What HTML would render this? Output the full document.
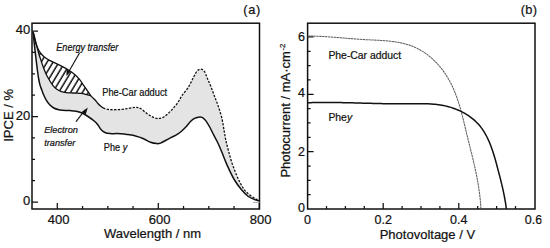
<!DOCTYPE html>
<html><head><meta charset="utf-8"><style>
html,body{margin:0;padding:0;background:#fff;width:550px;height:248px;overflow:hidden}
svg{display:block}
text{font-family:"Liberation Sans",sans-serif;stroke:#111;stroke-width:0.22px;paint-order:stroke}
</style></head><body>
<svg width="550" height="248" viewBox="0 0 550 248">
<defs>
<pattern id="hatch" patternUnits="userSpaceOnUse" width="5.1" height="5.1" patternTransform="rotate(31)">
<rect width="5.1" height="5.1" fill="#fff"/><line x1="1" y1="0" x2="1" y2="5.1" stroke="#111" stroke-width="1.5"/>
</pattern>
</defs>
<rect width="550" height="248" fill="#fff"/>
<path d="M33.20,32.00 C33.47,33.00 34.20,35.67 34.80,38.00 C35.40,40.33 36.12,43.33 36.80,46.00 C37.48,48.67 38.17,51.50 38.90,54.00 C39.63,56.50 40.42,58.67 41.20,61.00 C41.98,63.33 42.75,65.75 43.60,68.00 C44.45,70.25 45.35,72.50 46.30,74.50 C47.25,76.50 48.22,78.20 49.30,80.00 C50.38,81.80 51.60,83.80 52.80,85.30 C54.00,86.80 55.05,87.95 56.50,89.00 C57.95,90.05 59.83,91.00 61.50,91.60 C63.17,92.20 64.67,92.37 66.50,92.60 C68.33,92.83 70.08,92.88 72.50,93.00 C74.92,93.12 78.75,93.07 81.00,93.30 C83.25,93.53 84.35,93.98 86.00,94.40 C87.65,94.82 89.42,94.90 90.90,95.80 C92.38,96.70 93.80,98.60 94.90,99.80 C96.00,101.00 96.62,102.00 97.50,103.00 C98.38,104.00 99.25,104.97 100.20,105.80 C101.15,106.63 101.65,107.37 103.20,108.00 C104.75,108.63 106.87,109.33 109.50,109.60 C112.13,109.87 115.92,109.78 119.00,109.60 C122.08,109.42 125.25,108.88 128.00,108.50 C130.75,108.12 133.42,107.30 135.50,107.30 C137.58,107.30 138.62,107.48 140.50,108.50 C142.38,109.52 144.67,111.95 146.75,113.40 C148.83,114.85 151.12,116.35 153.00,117.20 C154.88,118.05 156.33,118.48 158.00,118.50 C159.67,118.52 161.33,118.12 163.00,117.30 C164.67,116.48 166.33,115.07 168.00,113.60 C169.67,112.13 171.33,110.38 173.00,108.50 C174.67,106.62 176.54,104.38 178.00,102.30 C179.46,100.22 179.97,98.62 181.75,96.00 C183.53,93.38 186.72,89.77 188.70,86.60 C190.67,83.43 192.18,79.62 193.60,77.00 C195.02,74.38 196.00,72.20 197.20,70.90 C198.40,69.60 199.58,69.08 200.80,69.20 C202.02,69.32 203.42,70.10 204.50,71.60 C205.58,73.10 206.23,75.70 207.30,78.20 C208.37,80.70 209.70,83.58 210.90,86.60 C212.10,89.62 213.28,93.07 214.50,96.30 C215.72,99.53 216.98,102.38 218.20,106.00 C219.42,109.62 220.83,114.00 221.80,118.00 C222.77,122.00 223.33,126.33 224.00,130.00 C224.67,133.67 225.03,136.45 225.80,140.00 C226.57,143.55 227.43,147.07 228.60,151.30 C229.77,155.53 231.15,160.70 232.80,165.40 C234.45,170.10 236.62,175.50 238.50,179.50 C240.38,183.50 242.22,186.80 244.10,189.40 C245.98,192.00 247.92,193.53 249.80,195.10 C251.68,196.67 253.82,197.95 255.40,198.80 C256.98,199.65 258.65,199.97 259.30,200.20 L259.50,200.80 C258.82,200.65 257.25,200.62 255.40,199.90 C253.55,199.18 250.75,198.25 248.40,196.50 C246.05,194.75 243.67,192.23 241.30,189.40 C238.93,186.57 236.55,183.50 234.20,179.50 C231.85,175.50 229.32,170.10 227.20,165.40 C225.08,160.70 223.15,155.23 221.50,151.30 C219.85,147.37 218.67,144.65 217.30,141.80 C215.93,138.95 214.57,136.67 213.30,134.20 C212.03,131.73 210.97,129.27 209.70,127.00 C208.43,124.73 206.98,122.20 205.70,120.60 C204.42,119.00 203.22,117.97 202.00,117.40 C200.78,116.83 199.65,117.03 198.40,117.20 C197.15,117.37 195.82,117.68 194.50,118.40 C193.18,119.12 191.79,120.23 190.50,121.50 C189.21,122.77 188.21,124.42 186.75,126.00 C185.29,127.58 183.42,129.55 181.75,131.00 C180.08,132.45 178.42,133.67 176.75,134.70 C175.08,135.73 173.62,136.23 171.75,137.20 C169.88,138.17 167.38,139.52 165.50,140.50 C163.62,141.48 161.96,142.58 160.50,143.10 C159.04,143.62 158.42,143.75 156.75,143.60 C155.08,143.45 152.79,143.05 150.50,142.20 C148.21,141.35 145.50,139.53 143.00,138.50 C140.50,137.47 138.00,136.65 135.50,136.00 C133.00,135.35 129.92,134.93 128.00,134.60 C126.08,134.27 125.83,134.17 124.00,134.00 C122.17,133.83 119.33,133.67 117.00,133.60 C114.67,133.53 112.00,133.78 110.00,133.60 C108.00,133.42 106.50,133.18 105.00,132.50 C103.50,131.82 102.17,130.75 101.00,129.50 C99.83,128.25 99.13,126.42 98.00,125.00 C96.87,123.58 95.87,122.42 94.20,121.00 C92.53,119.58 90.03,117.83 88.00,116.50 C85.97,115.17 84.00,113.88 82.00,113.00 C80.00,112.12 78.00,111.60 76.00,111.20 C74.00,110.80 72.25,110.75 70.00,110.60 C67.75,110.45 64.38,110.43 62.50,110.30 C60.62,110.17 60.21,110.18 58.75,109.80 C57.29,109.42 55.29,108.87 53.75,108.00 C52.21,107.13 50.77,105.97 49.50,104.60 C48.23,103.23 47.07,101.40 46.10,99.80 C45.13,98.20 44.42,96.63 43.70,95.00 C42.98,93.37 42.42,91.67 41.80,90.00 C41.18,88.33 40.52,86.83 40.00,85.00 C39.48,83.17 39.12,81.33 38.70,79.00 C38.28,76.67 37.88,73.83 37.50,71.00 C37.12,68.17 36.78,65.17 36.40,62.00 C36.02,58.83 35.62,55.67 35.20,52.00 C34.78,48.33 34.23,43.33 33.90,40.00 C33.57,36.67 33.32,33.33 33.20,32.00 Z" fill="#e4e4e4" stroke="none"/>
<path d="M33.20,32.00 C33.37,32.83 33.82,35.25 34.20,37.00 C34.58,38.75 35.00,40.83 35.50,42.50 C36.00,44.17 36.53,45.48 37.20,47.00 C37.87,48.52 38.62,50.22 39.50,51.60 C40.38,52.98 41.42,54.20 42.50,55.30 C43.58,56.40 44.75,57.32 46.00,58.20 C47.25,59.08 48.75,59.92 50.00,60.60 C51.25,61.28 52.33,61.75 53.50,62.30 C54.67,62.85 55.75,63.32 57.00,63.90 C58.25,64.48 59.29,64.92 61.00,65.80 C62.71,66.68 65.17,67.92 67.25,69.20 C69.33,70.48 71.46,71.82 73.50,73.50 C75.54,75.18 77.82,77.33 79.50,79.30 C81.18,81.27 82.30,83.42 83.60,85.30 C84.90,87.18 86.08,88.85 87.30,90.60 C88.52,92.35 90.30,94.93 90.90,95.80 L90.90,95.80 C90.08,95.57 87.65,94.82 86.00,94.40 C84.35,93.98 83.25,93.53 81.00,93.30 C78.75,93.07 74.92,93.12 72.50,93.00 C70.08,92.88 68.33,92.83 66.50,92.60 C64.67,92.37 63.17,92.20 61.50,91.60 C59.83,91.00 57.95,90.05 56.50,89.00 C55.05,87.95 54.00,86.80 52.80,85.30 C51.60,83.80 50.38,81.80 49.30,80.00 C48.22,78.20 47.25,76.50 46.30,74.50 C45.35,72.50 44.45,70.25 43.60,68.00 C42.75,65.75 41.98,63.33 41.20,61.00 C40.42,58.67 39.63,56.50 38.90,54.00 C38.17,51.50 37.48,48.67 36.80,46.00 C36.12,43.33 35.40,40.33 34.80,38.00 C34.20,35.67 33.47,33.00 33.20,32.00 Z" fill="url(#hatch)" stroke="none"/>
<path d="M33.20,32.00 C33.37,32.83 33.82,35.25 34.20,37.00 C34.58,38.75 35.00,40.83 35.50,42.50 C36.00,44.17 36.53,45.48 37.20,47.00 C37.87,48.52 38.62,50.22 39.50,51.60 C40.38,52.98 41.42,54.20 42.50,55.30 C43.58,56.40 44.75,57.32 46.00,58.20 C47.25,59.08 48.75,59.92 50.00,60.60 C51.25,61.28 52.33,61.75 53.50,62.30 C54.67,62.85 55.75,63.32 57.00,63.90 C58.25,64.48 59.29,64.92 61.00,65.80 C62.71,66.68 65.17,67.92 67.25,69.20 C69.33,70.48 71.46,71.82 73.50,73.50 C75.54,75.18 77.82,77.33 79.50,79.30 C81.18,81.27 82.30,83.42 83.60,85.30 C84.90,87.18 86.08,88.85 87.30,90.60 C88.52,92.35 89.63,94.27 90.90,95.80 C92.17,97.33 93.80,98.60 94.90,99.80 C96.00,101.00 96.62,102.00 97.50,103.00 C98.38,104.00 99.25,104.97 100.20,105.80 C101.15,106.63 102.70,107.63 103.20,108.00" fill="none" stroke="#111" stroke-width="1.3"/>
<path d="M103.20,108.00 C104.25,108.27 106.87,109.33 109.50,109.60 C112.13,109.87 115.92,109.78 119.00,109.60 C122.08,109.42 125.25,108.88 128.00,108.50 C130.75,108.12 133.42,107.30 135.50,107.30 C137.58,107.30 138.62,107.48 140.50,108.50 C142.38,109.52 144.67,111.95 146.75,113.40 C148.83,114.85 151.12,116.35 153.00,117.20 C154.88,118.05 156.33,118.48 158.00,118.50 C159.67,118.52 161.33,118.12 163.00,117.30 C164.67,116.48 166.33,115.07 168.00,113.60 C169.67,112.13 171.33,110.38 173.00,108.50 C174.67,106.62 176.54,104.38 178.00,102.30 C179.46,100.22 179.97,98.62 181.75,96.00 C183.53,93.38 186.72,89.77 188.70,86.60 C190.67,83.43 192.18,79.62 193.60,77.00 C195.02,74.38 196.00,72.20 197.20,70.90 C198.40,69.60 199.58,69.08 200.80,69.20 C202.02,69.32 203.42,70.10 204.50,71.60 C205.58,73.10 206.23,75.70 207.30,78.20 C208.37,80.70 209.70,83.58 210.90,86.60 C212.10,89.62 213.28,93.07 214.50,96.30 C215.72,99.53 216.98,102.38 218.20,106.00 C219.42,109.62 220.83,114.00 221.80,118.00 C222.77,122.00 223.33,126.33 224.00,130.00 C224.67,133.67 225.03,136.45 225.80,140.00 C226.57,143.55 227.43,147.07 228.60,151.30 C229.77,155.53 231.15,160.70 232.80,165.40 C234.45,170.10 236.62,175.50 238.50,179.50 C240.38,183.50 242.22,186.80 244.10,189.40 C245.98,192.00 247.92,193.53 249.80,195.10 C251.68,196.67 253.82,197.95 255.40,198.80 C256.98,199.65 258.65,199.97 259.30,200.20" fill="none" stroke="#111" stroke-width="1.3" stroke-dasharray="2.3,1.4"/>
<path d="M33.20,32.00 C33.47,33.00 34.20,35.67 34.80,38.00 C35.40,40.33 36.12,43.33 36.80,46.00 C37.48,48.67 38.17,51.50 38.90,54.00 C39.63,56.50 40.42,58.67 41.20,61.00 C41.98,63.33 42.75,65.75 43.60,68.00 C44.45,70.25 45.35,72.50 46.30,74.50 C47.25,76.50 48.22,78.20 49.30,80.00 C50.38,81.80 51.60,83.80 52.80,85.30 C54.00,86.80 55.05,87.95 56.50,89.00 C57.95,90.05 59.83,91.00 61.50,91.60 C63.17,92.20 64.67,92.37 66.50,92.60 C68.33,92.83 70.08,92.88 72.50,93.00 C74.92,93.12 78.75,93.07 81.00,93.30 C83.25,93.53 84.35,93.98 86.00,94.40 C87.65,94.82 90.08,95.57 90.90,95.80" fill="none" stroke="#111" stroke-width="1.3"/>
<path d="M33.20,32.00 C33.32,33.33 33.57,36.67 33.90,40.00 C34.23,43.33 34.78,48.33 35.20,52.00 C35.62,55.67 36.02,58.83 36.40,62.00 C36.78,65.17 37.12,68.17 37.50,71.00 C37.88,73.83 38.28,76.67 38.70,79.00 C39.12,81.33 39.48,83.17 40.00,85.00 C40.52,86.83 41.18,88.33 41.80,90.00 C42.42,91.67 42.98,93.37 43.70,95.00 C44.42,96.63 45.13,98.20 46.10,99.80 C47.07,101.40 48.23,103.23 49.50,104.60 C50.77,105.97 52.21,107.13 53.75,108.00 C55.29,108.87 57.29,109.42 58.75,109.80 C60.21,110.18 60.62,110.17 62.50,110.30 C64.38,110.43 67.75,110.45 70.00,110.60 C72.25,110.75 74.00,110.80 76.00,111.20 C78.00,111.60 80.00,112.12 82.00,113.00 C84.00,113.88 85.97,115.17 88.00,116.50 C90.03,117.83 92.53,119.58 94.20,121.00 C95.87,122.42 96.87,123.58 98.00,125.00 C99.13,126.42 99.83,128.25 101.00,129.50 C102.17,130.75 103.50,131.82 105.00,132.50 C106.50,133.18 108.00,133.42 110.00,133.60 C112.00,133.78 114.67,133.53 117.00,133.60 C119.33,133.67 122.17,133.83 124.00,134.00 C125.83,134.17 126.08,134.27 128.00,134.60 C129.92,134.93 133.00,135.35 135.50,136.00 C138.00,136.65 140.50,137.47 143.00,138.50 C145.50,139.53 148.21,141.35 150.50,142.20 C152.79,143.05 155.08,143.45 156.75,143.60 C158.42,143.75 159.04,143.62 160.50,143.10 C161.96,142.58 163.62,141.48 165.50,140.50 C167.38,139.52 169.88,138.17 171.75,137.20 C173.62,136.23 175.08,135.73 176.75,134.70 C178.42,133.67 180.08,132.45 181.75,131.00 C183.42,129.55 185.29,127.58 186.75,126.00 C188.21,124.42 189.21,122.77 190.50,121.50 C191.79,120.23 193.18,119.12 194.50,118.40 C195.82,117.68 197.15,117.37 198.40,117.20 C199.65,117.03 200.78,116.83 202.00,117.40 C203.22,117.97 204.42,119.00 205.70,120.60 C206.98,122.20 208.43,124.73 209.70,127.00 C210.97,129.27 212.03,131.73 213.30,134.20 C214.57,136.67 215.93,138.95 217.30,141.80 C218.67,144.65 219.85,147.37 221.50,151.30 C223.15,155.23 225.08,160.70 227.20,165.40 C229.32,170.10 231.85,175.50 234.20,179.50 C236.55,183.50 238.93,186.57 241.30,189.40 C243.67,192.23 246.05,194.75 248.40,196.50 C250.75,198.25 253.55,199.18 255.40,199.90 C257.25,200.62 258.82,200.65 259.50,200.80" fill="none" stroke="#111" stroke-width="1.5"/>
<rect x="32" y="23.2" width="227.5" height="185.8" fill="none" stroke="#111" stroke-width="1.5"/>
<path d="M57.30,209v-6 M82.55,209v-3 M107.80,209v-3 M133.05,209v-3 M158.30,209v-6 M183.55,209v-3 M208.80,209v-3 M234.05,209v-3 M259.30,209v-6 M32,202.00h6 M32,180.62h3 M32,159.25h3 M32,137.88h3 M32,116.50h6 M32,95.12h3 M32,73.75h3 M32,52.38h3 M32,31.00h6" stroke="#111" stroke-width="1.25" fill="none"/>
<path d="M253,202.4h6.5" stroke="#aaa" stroke-width="1" fill="none"/>
<text x="58.70" y="223.8" font-family="Liberation Sans, sans-serif" font-size="13" text-anchor="middle" fill="#111">400</text>
<text x="159.70" y="223.8" font-family="Liberation Sans, sans-serif" font-size="13" text-anchor="middle" fill="#111">600</text>
<text x="260.70" y="223.8" font-family="Liberation Sans, sans-serif" font-size="13" text-anchor="middle" fill="#111">800</text>
<text x="30.2" y="205.20" font-family="Liberation Sans, sans-serif" font-size="13" text-anchor="end" fill="#111">0</text>
<text x="30.2" y="119.80" font-family="Liberation Sans, sans-serif" font-size="13" text-anchor="end" fill="#111">20</text>
<text x="30.2" y="33.90" font-family="Liberation Sans, sans-serif" font-size="13" text-anchor="end" fill="#111">40</text>
<text x="152.5" y="237.6" font-family="Liberation Sans, sans-serif" font-size="13" text-anchor="middle" fill="#111">Wavelength / nm</text>
<text transform="translate(13.3,115.4) rotate(-90)" font-family="Liberation Sans, sans-serif" font-size="13" text-anchor="middle" fill="#111">IPCE / %</text>
<text x="260.8" y="14.4" font-family="Liberation Sans, sans-serif" font-size="12.8" letter-spacing="0.6" text-anchor="end" fill="#111">(a)</text>
<text x="56.3" y="51.2" font-family="Liberation Sans, sans-serif" font-size="10" font-style="italic" textLength="62" lengthAdjust="spacingAndGlyphs" fill="#111">Energy transfer</text>
<text x="102.3" y="96" font-family="Liberation Sans, sans-serif" font-size="10.2" textLength="64.8" lengthAdjust="spacingAndGlyphs" fill="#111">Phe-Car adduct</text>
<text x="44.2" y="133.3" font-family="Liberation Sans, sans-serif" font-size="9.2" font-style="italic" fill="#111">Electron</text>
<text x="44.2" y="145.9" font-family="Liberation Sans, sans-serif" font-size="9.2" font-style="italic" fill="#111">transfer</text>
<text x="103.8" y="150.9" font-family="Liberation Sans, sans-serif" font-size="10" textLength="23.4" lengthAdjust="spacingAndGlyphs" fill="#111">Phe <tspan font-style="italic">y</tspan></text>
<path d="M79.5,53 L68,73" stroke="#111" stroke-width="1.15" fill="none"/>
<path d="M66.4,76 L66.6,69.5 L70.6,71.6 Z" fill="#111"/>
<path d="M76,121.6 L85,110" stroke="#111" stroke-width="1.2" fill="none"/>
<path d="M87.8,107.4 L81.7,111.9 L85.7,114.4 Z" fill="#111"/>
<rect x="307.6" y="23.2" width="227.4" height="185.8" fill="none" stroke="#111" stroke-width="1.5"/>
<path d="M326.50,209v-3 M345.40,209v-3 M364.30,209v-3 M383.20,209v-6 M402.10,209v-3 M421.00,209v-3 M439.90,209v-3 M458.80,209v-6 M477.70,209v-3 M496.60,209v-3 M515.50,209v-3 M307.6,194.66h3 M307.6,180.33h3 M307.6,166.00h3 M307.6,151.66h6 M307.6,137.32h3 M307.6,122.99h3 M307.6,108.66h3 M307.6,94.32h6 M307.6,79.98h3 M307.6,65.65h3 M307.6,51.31h3 M307.6,36.98h6" stroke="#111" stroke-width="1.25" fill="none"/>
<path d="M307.62,36.07 L309.49,36.07 L311.35,36.09 L313.20,36.13 L315.04,36.17 L316.87,36.23 L318.69,36.30 L320.51,36.38 L322.32,36.47 L324.13,36.56 L325.93,36.67 L327.73,36.79 L329.52,36.91 L331.31,37.04 L333.10,37.17 L334.88,37.31 L336.67,37.45 L338.45,37.60 L340.23,37.75 L342.02,37.89 L343.81,38.05 L345.59,38.20 L347.39,38.35 L349.18,38.50 L350.98,38.64 L352.78,38.79 L354.59,38.93 L356.41,39.07 L358.23,39.20 L360.05,39.33 L361.89,39.45 L363.73,39.56 L365.59,39.66 L367.45,39.76 L369.32,39.85 L371.19,39.94 L373.07,40.03 L374.96,40.12 L376.84,40.22 L378.73,40.32 L380.62,40.43 L382.50,40.55 L384.39,40.69 L386.26,40.84 L388.14,41.01 L390.00,41.19 L391.86,41.40 L393.71,41.64 L395.55,41.90 L397.37,42.19 L399.19,42.51 L400.99,42.87 L402.77,43.26 L404.53,43.69 L406.28,44.16 L408.01,44.68 L409.71,45.24 L411.40,45.84 L413.06,46.50 L414.70,47.20 L416.31,47.94 L417.90,48.74 L419.47,49.57 L421.01,50.45 L422.53,51.37 L424.02,52.33 L425.49,53.32 L426.93,54.36 L428.35,55.44 L429.74,56.55 L431.10,57.70 L432.44,58.88 L433.75,60.09 L435.03,61.34 L436.29,62.62 L437.51,63.93 L438.71,65.26 L439.88,66.63 L441.02,68.02 L442.14,69.44 L443.22,70.89 L444.28,72.36 L445.30,73.85 L446.30,75.37 L447.26,76.90 L448.19,78.46 L449.10,80.03 L449.97,81.62 L450.81,83.23 L451.62,84.86 L452.40,86.50 L453.16,88.16 L453.88,89.83 L454.59,91.51 L455.27,93.21 L455.92,94.92 L456.56,96.64 L457.17,98.37 L457.76,100.11 L458.34,101.86 L458.90,103.62 L459.44,105.38 L459.96,107.15 L460.47,108.93 L460.97,110.72 L461.46,112.50 L461.93,114.30 L462.40,116.09 L462.86,117.89 L463.31,119.69 L463.75,121.49 L464.19,123.29 L464.62,125.09 L465.05,126.89 L465.48,128.69 L465.90,130.48 L466.33,132.27 L466.76,134.06 L467.19,135.84 L467.62,137.62 L468.06,139.39 L468.50,141.16 L468.93,142.92 L469.37,144.69 L469.81,146.44 L470.25,148.20 L470.68,149.95 L471.11,151.70 L471.55,153.45 L471.98,155.20 L472.40,156.95 L472.82,158.70 L473.24,160.45 L473.65,162.20 L474.06,163.95 L474.46,165.70 L474.85,167.46 L475.24,169.21 L475.62,170.97 L475.99,172.73 L476.36,174.50 L476.71,176.26 L477.06,178.04 L477.39,179.81 L477.71,181.59 L478.03,183.38 L478.33,185.18 L478.61,186.97 L478.89,188.78 L479.15,190.59 L479.40,192.41 L479.63,194.24 L479.85,196.07 L480.06,197.92 L480.24,199.77 L480.41,201.63 L480.57,203.51 L480.71,205.39 L480.82,207.28 L480.92,209.18" fill="none" stroke="#5e5e5e" stroke-width="1.05" stroke-dasharray="2.4,0.5"/>
<path d="M307.58,102.73 L309.28,102.68 L310.97,102.64 L312.66,102.60 L314.35,102.57 L316.04,102.54 L317.73,102.52 L319.41,102.50 L321.09,102.49 L322.78,102.48 L324.46,102.47 L326.14,102.47 L327.82,102.48 L329.49,102.48 L331.17,102.49 L332.84,102.51 L334.52,102.52 L336.19,102.54 L337.86,102.57 L339.54,102.59 L341.21,102.62 L342.88,102.65 L344.55,102.68 L346.22,102.72 L347.89,102.75 L349.55,102.79 L351.22,102.83 L352.89,102.87 L354.56,102.91 L356.22,102.95 L357.89,103.00 L359.56,103.04 L361.22,103.09 L362.89,103.13 L364.56,103.18 L366.22,103.22 L367.89,103.26 L369.56,103.31 L371.23,103.35 L372.89,103.40 L374.56,103.44 L376.23,103.48 L377.90,103.52 L379.57,103.56 L381.24,103.60 L382.91,103.63 L384.59,103.67 L386.26,103.70 L387.93,103.73 L389.61,103.75 L391.28,103.78 L392.96,103.80 L394.64,103.82 L396.32,103.83 L398.00,103.85 L399.68,103.86 L401.36,103.86 L403.05,103.86 L404.73,103.86 L406.42,103.86 L408.11,103.85 L409.80,103.83 L411.49,103.81 L413.19,103.79 L414.88,103.77 L416.58,103.75 L418.27,103.74 L419.97,103.73 L421.66,103.73 L423.36,103.74 L425.05,103.76 L426.74,103.80 L428.43,103.86 L430.12,103.93 L431.80,104.03 L433.48,104.16 L435.16,104.31 L436.84,104.49 L438.51,104.70 L440.17,104.94 L441.84,105.22 L443.49,105.53 L445.14,105.88 L446.78,106.27 L448.41,106.69 L450.03,107.14 L451.63,107.64 L453.23,108.17 L454.80,108.73 L456.36,109.33 L457.91,109.97 L459.43,110.64 L460.94,111.35 L462.42,112.09 L463.88,112.87 L465.31,113.69 L466.72,114.54 L468.11,115.43 L469.46,116.36 L470.79,117.32 L472.08,118.31 L473.35,119.35 L474.58,120.42 L475.77,121.53 L476.93,122.67 L478.06,123.85 L479.14,125.07 L480.19,126.32 L481.19,127.61 L482.16,128.93 L483.09,130.29 L483.98,131.68 L484.84,133.10 L485.66,134.54 L486.46,136.01 L487.22,137.51 L487.95,139.03 L488.66,140.56 L489.34,142.12 L489.99,143.70 L490.62,145.29 L491.22,146.90 L491.81,148.52 L492.37,150.15 L492.92,151.79 L493.45,153.44 L493.96,155.09 L494.46,156.75 L494.95,158.41 L495.42,160.07 L495.88,161.74 L496.34,163.40 L496.78,165.05 L497.22,166.70 L497.65,168.34 L498.08,169.98 L498.51,171.60 L498.93,173.22 L499.35,174.83 L499.77,176.43 L500.17,178.03 L500.58,179.62 L500.97,181.22 L501.37,182.81 L501.75,184.40 L502.13,185.99 L502.49,187.58 L502.86,189.18 L503.21,190.78 L503.55,192.39 L503.88,194.00 L504.21,195.62 L504.52,197.26 L504.82,198.90 L505.11,200.55 L505.39,202.21 L505.66,203.89 L505.91,205.59 L506.15,207.30 L506.38,209.02" fill="none" stroke="#111" stroke-width="1.5"/>
<text x="307.60" y="224" font-family="Liberation Sans, sans-serif" font-size="12.5" text-anchor="middle" fill="#111">0</text>
<text x="383.20" y="224" font-family="Liberation Sans, sans-serif" font-size="12.5" text-anchor="middle" fill="#111">0.2</text>
<text x="458.80" y="224" font-family="Liberation Sans, sans-serif" font-size="12.5" text-anchor="middle" fill="#111">0.4</text>
<text x="533.50" y="224" font-family="Liberation Sans, sans-serif" font-size="12.5" text-anchor="middle" fill="#111">0.6</text>
<rect x="541.7" y="211" width="9" height="16" fill="#fff"/>
<text x="305" y="211.70" font-family="Liberation Sans, sans-serif" font-size="12.5" text-anchor="end" fill="#111">0</text>
<text x="305" y="156.16" font-family="Liberation Sans, sans-serif" font-size="12.5" text-anchor="end" fill="#111">2</text>
<text x="305" y="97.12" font-family="Liberation Sans, sans-serif" font-size="12.5" text-anchor="end" fill="#111">4</text>
<text x="305" y="41.48" font-family="Liberation Sans, sans-serif" font-size="12.5" text-anchor="end" fill="#111">6</text>
<text x="427.4" y="238.9" font-family="Liberation Sans, sans-serif" font-size="13" text-anchor="middle" fill="#111">Photovoltage / V</text>
<text transform="translate(289.7,177.6) rotate(-90)" font-family="Liberation Sans, sans-serif" font-size="13" fill="#111">Photocurrent / mA·cm<tspan dx="0.6" dy="-5" font-size="7.8">-2</tspan></text>
<text x="537.3" y="14.4" font-family="Liberation Sans, sans-serif" font-size="12.8" letter-spacing="0.3" text-anchor="end" fill="#111">(b)</text>
<text x="328.4" y="58.8" font-family="Liberation Sans, sans-serif" font-size="10.4" fill="#111">Phe-Car adduct</text>
<text x="328.4" y="120.6" font-family="Liberation Sans, sans-serif" font-size="10.4" fill="#111">Phe<tspan font-style="italic">y</tspan></text>
</svg>
</body></html>
